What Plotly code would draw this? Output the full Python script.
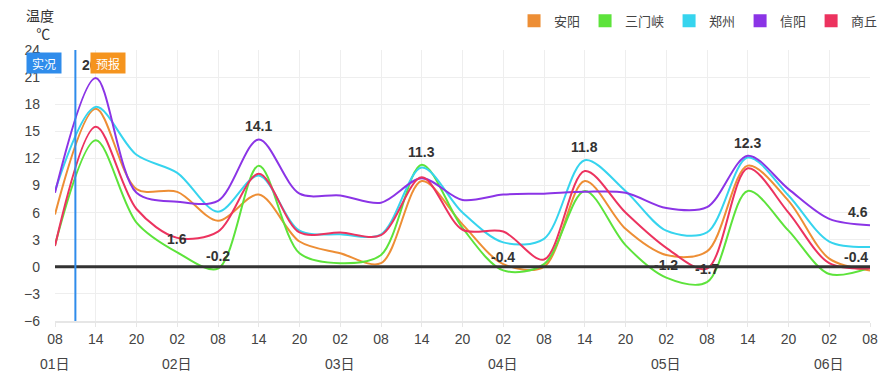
import plotly.graph_objects as go

# ---------------- data ----------------
hours = list(range(0, 121, 6))  # hours since 01日 08时
tick_hour = ["08", "14", "20", "02", "08", "14", "20", "02", "08", "14", "20",
             "02", "08", "14", "20", "02", "08", "14", "20", "02", "08"]
day_hours = [0, 18, 42, 66, 90, 114]
day_labels = ["01日", "02日", "03日", "04日", "05日", "06日"]

names = ["安阳", "三门峡", "郑州", "信阳", "商丘"]
colors = ["#ED8E35", "#5DE33B", "#36D4EE", "#8B34E6", "#EC335F"]

anyang = [5.8, 17.5, 8.6, 8.3, 5.1, 8.0, 2.8, 1.5, 0.4, 9.5, 4.7, 0.3, 0.0, 9.5, 4.2, 1.3, 1.7, 11.2, 7.3, 0.9, -0.4]
sanmenxia = [2.4, 14.0, 4.9, 1.6, -0.2, 11.2, 1.5, 0.4, 1.3, 11.3, 4.3, -0.4, 0.3, 8.4, 2.4, -1.2, -1.7, 8.4, 4.0, -0.8, -0.1]
zhengzhou = [8.4, 17.7, 12.4, 10.4, 6.1, 10.1, 4.0, 3.6, 3.6, 11.0, 6.0, 2.7, 3.1, 11.8, 8.4, 4.0, 3.8, 12.1, 7.9, 2.8, 2.2]
xinyang = [8.2, 20.9, 8.2, 7.2, 7.3, 14.1, 8.1, 7.9, 7.1, 9.8, 7.4, 8.0, 8.1, 8.3, 8.2, 6.5, 6.6, 12.3, 8.6, 5.3, 4.6]
shangqiu = [2.3, 15.5, 6.4, 3.2, 3.9, 10.3, 3.8, 3.8, 3.5, 9.9, 4.1, 3.9, 0.8, 10.6, 6.0, 2.1, -0.2, 10.9, 6.0, 0.4, -0.2]
series = [anyang, sanmenxia, zhengzhou, xinyang, shangqiu]

# extreme-value labels: (index into hours, value)
label_idx = [1, 3, 4, 5, 9, 11, 13, 15, 16, 17, 20, 20]
label_val = [20.9, 1.6, -0.2, 14.1, 11.3, -0.4, 11.8, -1.2, -1.7, 12.3, 4.6, -0.4]

now_hour = 3  # 实况 / 预报 boundary (01日 11时)

y_ticks = list(range(-6, 25, 3))

# ---------------- figure ----------------
fig = go.Figure()
font_family = "Liberation Sans, Arial, Noto Sans CJK SC, sans-serif"
cjk = "Noto Sans CJK SC"

for name, col, vals in zip(names, colors, series):
    fig.add_trace(go.Scatter(
        x=hours, y=vals, mode="lines", name=name,
        line=dict(color=col, width=2, shape="spline", smoothing=0.9),
        showlegend=False, hoverinfo="x+y+name"))

for name, col in zip(names, colors):
    fig.add_trace(go.Scatter(
        x=[None], y=[None], mode="markers", name=name,
        marker=dict(symbol="square", size=13, color=col), showlegend=True))

# zero line
fig.add_shape(type="line", xref="paper", x0=0, x1=1, yref="y", y0=0, y1=0,
              line=dict(color="#333333", width=3), layer="above")
# now line
fig.add_shape(type="line", xref="x", x0=now_hour, x1=now_hour, yref="paper", y0=0, y1=1,
              line=dict(color="#2F8CEB", width=2), layer="above")

for i, v in zip(label_idx, label_val):
    last = hours[i] == hours[-1]
    fig.add_annotation(x=hours[i], y=v, text=str(v), showarrow=False,
                       xanchor="right" if last else "center", yanchor="bottom", yshift=3,
                       font=dict(size=14, color="#333333", family=font_family, weight="bold"))

fig.add_annotation(x=now_hour, xref="x", y=1, yref="paper", text="实况", showarrow=False,
                   xanchor="right", yanchor="top", xshift=-13, yshift=-2,
                   width=28, height=14, bgcolor="#2F8CEB", borderpad=3,
                   font=dict(size=12, color="white", family=cjk))
fig.add_annotation(x=now_hour, xref="x", y=1, yref="paper", text="预报", showarrow=False,
                   xanchor="left", yanchor="top", xshift=15, yshift=-2,
                   width=28, height=14, bgcolor="#F5941E", borderpad=3,
                   font=dict(size=12, color="white", family=cjk))

# day labels under the hour ticks
for dh, dl in zip(day_hours, day_labels):
    fig.add_annotation(x=dh, xref="x", y=0, yref="paper", text=dl, showarrow=False,
                       xanchor="center", yanchor="middle", yshift=-43,
                       font=dict(size=14, color="#444444", family=font_family))

# y-axis title
fig.add_annotation(xref="paper", yref="paper", x=-0.018, y=1.175, text="温度<br>  ℃",
                   showarrow=False, xanchor="center", yanchor="top", align="center",
                   font=dict(size=14, color="#333333", family=cjk))

fig.update_layout(
    width=880, height=389,
    margin=dict(l=55, r=10, t=50, b=68, autoexpand=False),
    paper_bgcolor="white", plot_bgcolor="white",
    font=dict(family=font_family, size=14, color="#444444"),
    xaxis=dict(range=[hours[0], hours[-1]], tickmode="array", tickvals=hours, ticktext=tick_hour,
               showgrid=True, gridcolor="#EEEEEE", gridwidth=1, zeroline=False,
               showline=True, linecolor="#E6E6E6", linewidth=2,
               ticks="outside", ticklen=4, tickcolor="#E6E6E6", automargin=False,
               tickfont=dict(size=14, color="#444444")),
    yaxis=dict(range=[-6, 24], tickmode="array", tickvals=y_ticks,
               showgrid=True, gridcolor="#EEEEEE", gridwidth=1, zeroline=False,
               showline=False, ticks="", ticklabelstandoff=14, automargin=False,
               tickfont=dict(size=14, color="#444444")),
    legend=dict(orientation="h", x=1.016, xanchor="right", y=0.985, yanchor="top",
                yref="container", xref="paper",
                font=dict(size=13, color="#444444", family=cjk),
                itemwidth=30, bgcolor="rgba(0,0,0,0)"),
    showlegend=True,
)

fig.write_html("out.html", config={"displayModeBar": False},
               post_script="document.body.style.margin='0';document.body.style.overflow='hidden';")
